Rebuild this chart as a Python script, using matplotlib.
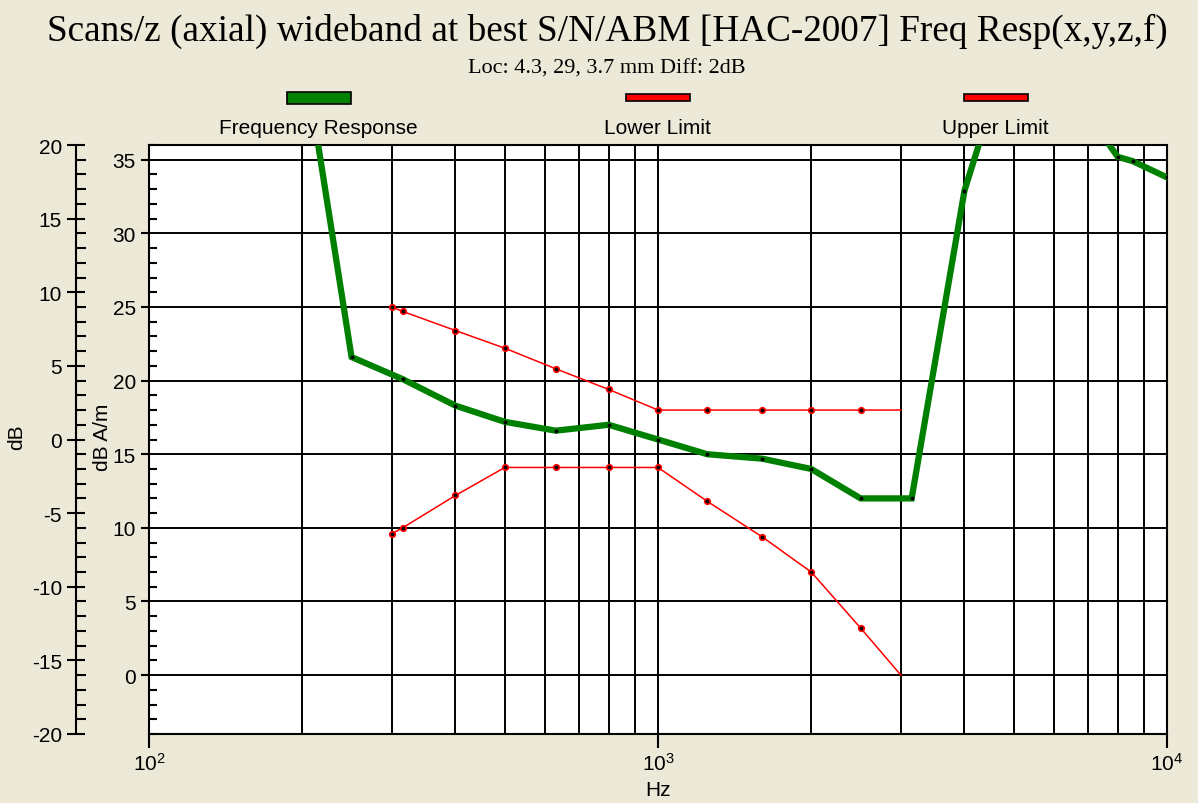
import matplotlib
matplotlib.use("Agg")
import matplotlib.pyplot as plt
from matplotlib.patches import Rectangle
from matplotlib.ticker import MultipleLocator, LogLocator, NullFormatter

# datos (dB A/m)
fr_freq = [200, 250, 315, 400, 500, 630, 800, 1000, 1250, 1600, 2000, 2500,
           3150, 4000, 5000, 6300, 8000, 8570, 10000]
fr_val = [42.9, 21.6, 20.1, 18.3, 17.2, 16.6, 17.0, 16.0, 15.0, 14.7, 14.0, 12.0,
          12.0, 32.9, 43.6, 40.3, 35.2, 34.9, 33.8]

lim_freq = [300, 315, 400, 500, 630, 800, 1000, 1250, 1600, 2000, 2500, 3000]
lower_val = [9.6, 10.0, 12.2, 14.1, 14.1, 14.1, 14.1, 11.8, 9.4, 7.0, 3.2, 0.0]
upper_val = [25.0, 24.7, 23.4, 22.2, 20.8, 19.4, 18.0, 18.0, 18.0, 18.0, 18.0, 18.0]

leyenda = ["Frequency Response", "Lower Limit", "Upper Limit"]
titulo = "Scans/z (axial) wideband at best S/N/ABM [HAC-2007] Freq Resp(x,y,z,f)"
subtitulo = "Loc: 4.3, 29, 3.7 mm Diff: 2dB"

fondo = "#ECE9D8"
verde = "#008000"
sans = "Liberation Sans"
plt.rcParams["font.family"] = sans
plt.rcParams["mathtext.fontset"] = "custom"
plt.rcParams["mathtext.rm"] = sans
plt.rcParams["axes.unicode_minus"] = False

W, H = 1198, 804
fig = plt.figure(figsize=(W / 100, H / 100), dpi=100, facecolor=fondo)
ax = fig.add_axes([149 / W, 1 - 735 / H, (1167 - 149) / W, (735 - 146) / H])
ax.set_facecolor("white")

ax.set_xscale("log")
ax.set_xlim(100, 10000)
ax.set_ylim(-4, 36)

ax.plot(fr_freq, fr_val, color=verde, lw=4.5, marker="o", ms=2.8,
        mfc="black", mec="black", mew=0, zorder=4, solid_joinstyle="miter")
ax.plot(lim_freq, lower_val, color="red", lw=1.1, marker="o", ms=4, mfc="black",
        mec="red", mew=1.2, markevery=list(range(len(lim_freq) - 1)), zorder=3)
ax.plot(lim_freq, upper_val, color="red", lw=1.1, marker="o", ms=4, mfc="black",
        mec="red", mew=1.2, markevery=list(range(len(lim_freq) - 1)), zorder=3)

# rejilla
ax.yaxis.set_major_locator(MultipleLocator(5))
ax.yaxis.set_minor_locator(MultipleLocator(1))
ax.xaxis.set_major_locator(LogLocator(base=10))
ax.xaxis.set_minor_locator(LogLocator(base=10, subs=range(2, 10)))
ax.xaxis.set_minor_formatter(NullFormatter())
ax.grid(True, which="major", axis="y", color="black", lw=1.4)
ax.grid(True, which="both", axis="x", color="black", lw=1.4)
ax.set_axisbelow(True)
for s in ax.spines.values():
    s.set_linewidth(1.5)

ax.tick_params(axis="y", which="major", direction="out", length=5.8, width=1.5,
               pad=3.6, labelsize=15)
ax.tick_params(axis="y", which="minor", direction="in", length=5.8, width=1.5)
ax.tick_params(axis="x", which="major", direction="out", length=10, width=1.5,
               pad=3, labelsize=15)
ax.tick_params(axis="x", which="minor", length=0)

# eje exterior en dB
sec = ax.secondary_yaxis(-73 / 1018, functions=(lambda v: v - 16, lambda v: v + 16))
sec.yaxis.set_major_locator(MultipleLocator(5))
sec.yaxis.set_minor_locator(MultipleLocator(1))
sec.tick_params(which="major", direction="inout", length=13, width=1.5, pad=3.6,
                labelsize=15)
sec.tick_params(which="minor", direction="in", length=7, width=1.5)
sec.spines["left"].set_linewidth(1.5)
sec.xaxis.set_visible(False)

fig.text(17 / W, 1 - 437 / H, "dB", rotation=90, ha="center", va="center", fontsize=15)
fig.text(103 / W, 1 - 437 / H, "dB A/m", rotation=90, ha="center", va="center", fontsize=15)
fig.text(658 / W, 1 - 791 / H, "Hz", ha="center", va="center", fontsize=15)

fig.text(607 / W, 1 - 41 / H, titulo, ha="center", va="baseline",
         family="Liberation Serif", fontsize=26.8)
fig.text(607 / W, 1 - 74 / H, subtitulo, ha="center", va="baseline",
         family="Liberation Serif", fontsize=16)

# leyenda manual
cajas = [(287, 93, 12, verde), (626, 95, 7, "red"), (964, 95, 7, "red")]
centros = [318, 657, 995]
for (x0, y0, h, c), nombre, xc in zip(cajas, leyenda, centros):
    fig.patches.append(Rectangle((x0 / W, 1 - (y0 + h) / H), 64 / W, h / H,
                                 transform=fig.transFigure, facecolor=c,
                                 edgecolor="black", lw=1.2))
    fig.text(xc / W, 1 - 134 / H, nombre, ha="center", va="baseline", fontsize=15)

fig.savefig("out.png", dpi=100, facecolor=fondo)
